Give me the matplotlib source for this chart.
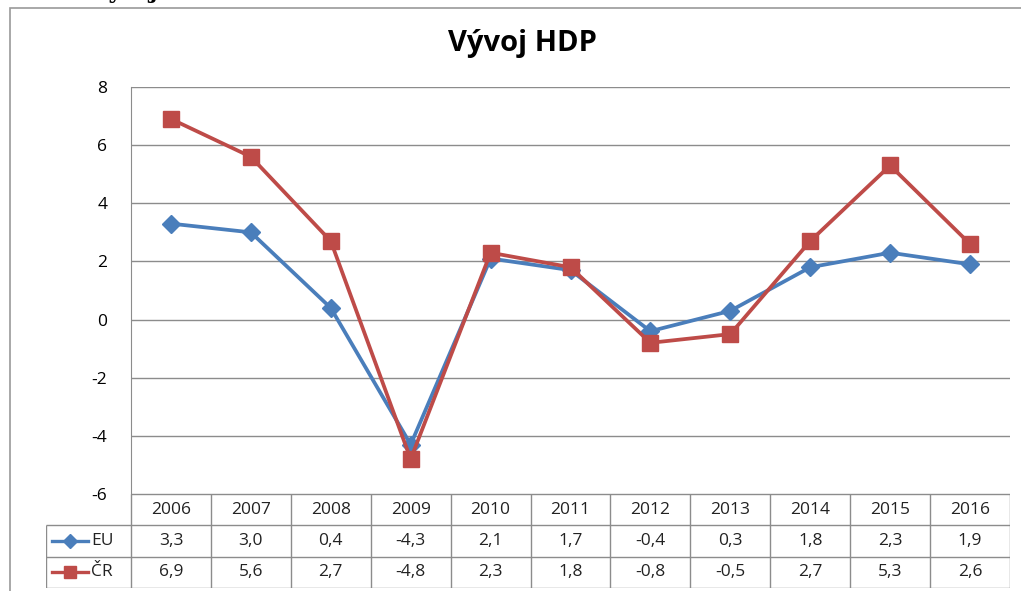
import numpy as np
import matplotlib.pyplot as plt
import matplotlib.patches as patches

# data (GDP growth, %)
years = ["2006", "2007", "2008", "2009", "2010", "2011",
         "2012", "2013", "2014", "2015", "2016"]
eu = [3.3, 3.0, 0.4, -4.3, 2.1, 1.7, -0.4, 0.3, 1.8, 2.3, 1.9]
cr = [6.9, 5.6, 2.7, -4.8, 2.3, 1.8, -0.8, -0.5, 2.7, 5.3, 2.6]
series_names = ["EU", "ČR"]
y_ticks = [-6, -4, -2, 0, 2, 4, 6, 8]

blue = "#4a7ebb"
red = "#be4b48"
grid_col = "#8c8c8c"
font = "Open Sans"
fs = 12.5

W, H = 1021, 591
fig = plt.figure(figsize=(W / 100, H / 100), dpi=100)
fig.patch.set_facecolor("white")

# outer chart frame (left + top edges visible)
fig.add_artist(patches.Rectangle((10 / W, -0.1), 1.2, 1.1 - 8 / H,
                                 transform=fig.transFigure, fill=False,
                                 edgecolor="#9a9a9a", linewidth=1.2))

# clipped heading of the document above the chart
fig.text(92 / W, 1.0 + 2 / H, "Vývoj HDP", family="DejaVu Serif",
         weight="bold", fontsize=16, va="baseline", ha="left")

# ==========================================================
# main plot area
left, right, top, bottom = 131, 1010, 87, 494
col_w = (right - left) / len(years)
ax = fig.add_axes([left / W, (H - bottom) / H, (right - left) / W, (bottom - top) / H])
x = np.arange(len(years))

ax.plot(x, eu, color=blue, lw=2.7, marker="D", ms=9, zorder=3)
ax.plot(x, cr, color=red, lw=2.7, marker="s", ms=11.5, zorder=4)

ax.set_xlim(-0.5, len(years) - 0.5)
ax.set_ylim(-6, 8)
ax.set_yticks(y_ticks)
ax.set_yticklabels([str(v) for v in y_ticks], family=font, fontsize=fs)
ax.set_xticks([])
ax.tick_params(axis="y", length=0, pad=17)
ax.grid(axis="y", color=grid_col, lw=1.0)
for s in ["top", "right", "bottom"]:
    ax.spines[s].set_visible(False)
ax.spines["left"].set_color(grid_col)

fig.text(522 / W, 1 - 44 / H, "Vývoj HDP", family=font, weight="bold",
         fontsize=21, ha="center", va="center")

# ==========================================================
# data table under the chart
t_left, t_bottom = 46, 588
label_w = (left - t_left) / col_w
tax = fig.add_axes([t_left / W, (H - t_bottom) / H, (right - t_left) / W, (t_bottom - bottom) / H])
x0 = -0.5 - label_w
tax.set_xlim(x0, len(years) - 0.5)
tax.set_ylim(3, 0)
tax.axis("off")

lkw = dict(color=grid_col, lw=1.0, solid_capstyle="butt")
tax.plot([-0.5, len(years) - 0.5], [0, 0], **lkw)
for yy in [1, 2, 3]:
    tax.plot([x0, len(years) - 0.5], [yy, yy], **lkw)
for xx in np.arange(len(years) + 1) - 0.5:
    tax.plot([xx, xx], [0, 3], **lkw)
tax.plot([x0, x0], [1, 3], **lkw)

tkw = dict(family=font, fontsize=fs, ha="center", va="center", color="#222222")
for i, yr in enumerate(years):
    tax.text(i, 0.5, yr, **tkw)
for row, (vals, name, col, mk, ms) in enumerate(
        [(eu, series_names[0], blue, "D", 7), (cr, series_names[1], red, "s", 9)]):
    yy = 1.5 + row
    for i, v in enumerate(vals):
        tax.text(i, yy, f"{v:.1f}".replace(".", ","), **tkw)
    xa = x0 + 6 / col_w
    xb = x0 + 42 / col_w
    tax.plot([xa, xb], [yy, yy], color=col, lw=2.4)
    tax.plot([(xa + xb) / 2], [yy], color=col, marker=mk, ms=ms)
    tax.text(xb + 3 / col_w, yy, name, family=font, fontsize=fs,
             ha="left", va="center", color="#222222")

fig.savefig("out.png", dpi=100)
